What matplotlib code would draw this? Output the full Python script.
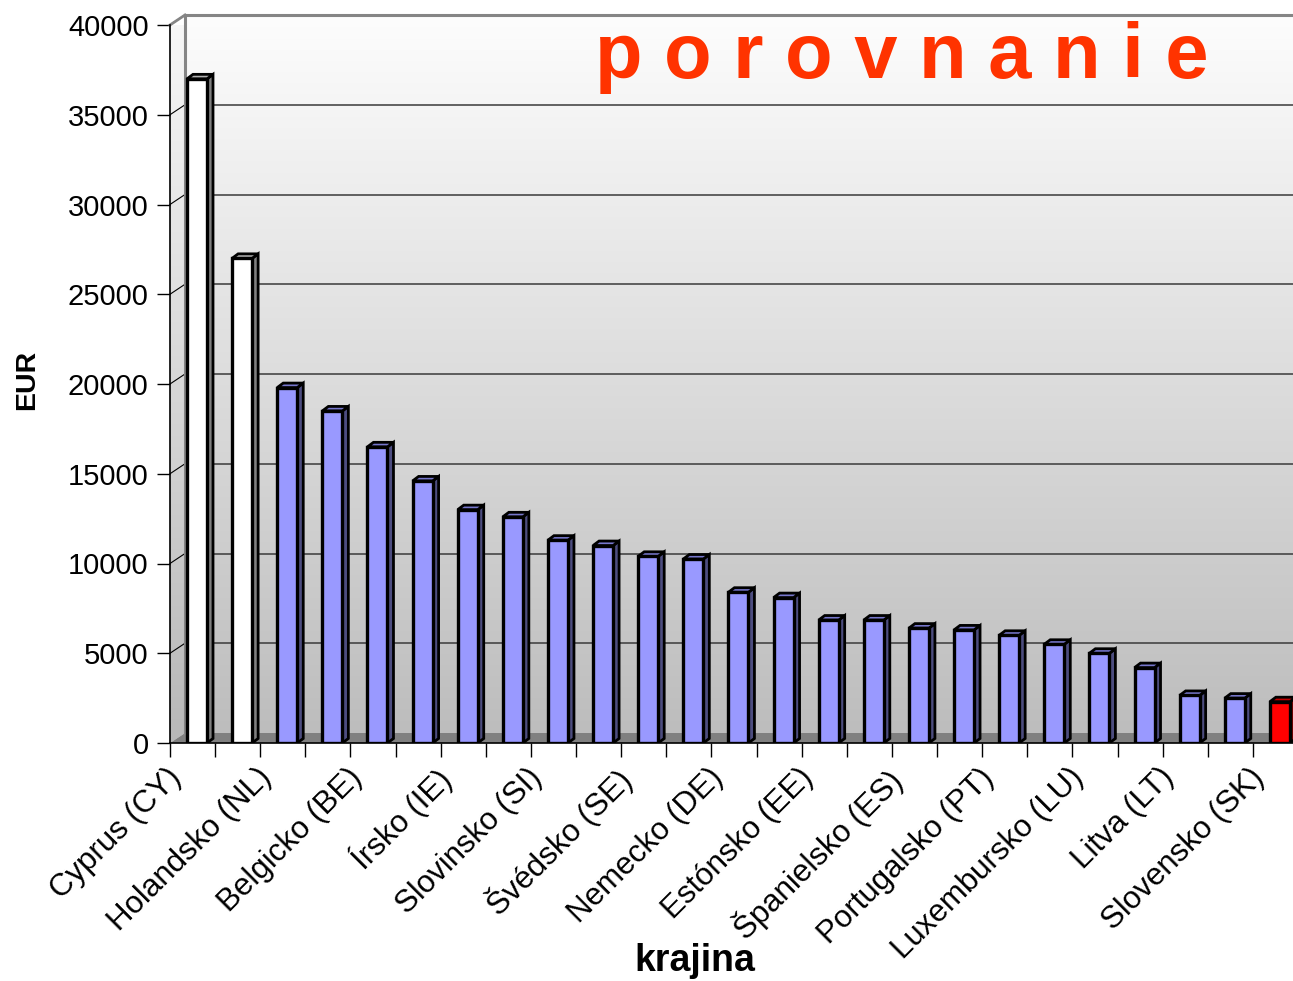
import numpy as np
import matplotlib.pyplot as plt
from matplotlib.patches import Polygon
from matplotlib.colors import LinearSegmentedColormap
from matplotlib.transforms import ScaledTranslation

# hodnoty v EUR, 25 krajin (popis je len pri kazdej druhej)
hodnoty = [37000, 27000, 19800, 18500, 16500, 14600, 13000, 12600, 11300, 11000,
           10400, 10250, 8400, 8100, 6850, 6850, 6400, 6300, 6000, 5500,
           5000, 4200, 2650, 2500, 2300]
popisy = ['Cyprus (CY)', 'Holandsko (NL)', 'Belgicko (BE)', 'Írsko (IE)',
          'Slovinsko (SI)', 'Švédsko (SE)', 'Nemecko (DE)', 'Estónsko (EE)',
          'Španielsko (ES)', 'Portugalsko (PT)', 'Luxembursko (LU)',
          'Litva (LT)', 'Slovensko (SK)']
druh = ['w', 'w'] + ['b'] * 22 + ['r']
y_ticks = list(range(0, 40001, 5000))

FARBY = {'w': ('#FFFFFF', '#808080', '#B0B0B0'),
         'b': ('#9999FF', '#4D4D80', '#7777CC'),
         'r': ('#FF0000', '#800000', '#C00000')}

plt.rcParams['font.family'] = ['Liberation Sans', 'DejaVu Sans']

W, H = 1293, 981
fig = plt.figure(figsize=(W / 100, H / 100), dpi=100)
ax = fig.add_axes([170 / W, (H - 743) / H, 1128 / W, 718 / H])
n = len(hodnoty)
YMAX = 40000

# velkost jedneho pixelu v datovych suradniciach
px = n / 1128
py = YMAX / 718
dxb, dyb = 15 * px, 10 * py      # hlbka zadnej steny
ddx, ddy = 6 * px, 4.5 * py      # hlbka stlpca

# zadna stena s gradientom
grad = np.linspace(0, 1, 256).reshape(-1, 1)
cm_back = LinearSegmentedColormap.from_list('back', ['#BDBDBD', '#FDFDFD'])
ax.imshow(grad, origin='lower', extent=[dxb, n + 1, dyb, YMAX + dyb],
          aspect='auto', cmap=cm_back, zorder=0, clip_on=False)

# lava stena
wall = Polygon([(0, 0), (0, YMAX), (dxb, YMAX + dyb), (dxb, dyb)],
               closed=True, transform=ax.transData)
im = ax.imshow(grad, origin='lower', extent=[0, dxb, 0, YMAX + dyb],
               aspect='auto', cmap=LinearSegmentedColormap.from_list('l', ['#B8B8B8', '#F8F8F8']),
               zorder=0)
im.set_clip_path(wall)

# mriezka
for v in y_ticks[1:-1]:
    ax.plot([dxb, n + 1], [v + dyb, v + dyb], color='#3A3A3A', lw=1.1, zorder=1, clip_on=False)
for v in y_ticks[1:]:
    ax.plot([0, dxb], [v, v + dyb], color='black', lw=0.8, zorder=1, clip_on=False)

# podlaha
ax.add_patch(Polygon([(0, 0), (n + 1, 0), (n + 1, dyb), (dxb, dyb)], closed=True,
                     facecolor='#808080', edgecolor='none', zorder=1.5, clip_on=False))

# okraje steny
ax.plot([dxb, dxb], [dyb, YMAX + dyb], color='#858585', lw=2.2, zorder=2, clip_on=False)
ax.plot([dxb, n + 1], [YMAX + dyb, YMAX + dyb], color='#858585', lw=2.2, zorder=2, clip_on=False)
ax.plot([0, dxb], [YMAX, YMAX + dyb], color='#858585', lw=2.0, zorder=2, clip_on=False)

# stlpce
x0 = np.arange(n) + 17 * px
bw = 20 * px
fronts = [FARBY[d][0] for d in druh]
ax.bar(x0, hodnoty, width=bw, align='edge', color=fronts, edgecolor='black',
       linewidth=2.4, zorder=4)
for xl, v, d in zip(x0, hodnoty, druh):
    xr = xl + bw
    side = Polygon([(xr, 0), (xr + ddx, ddy), (xr + ddx, v + ddy), (xr, v)], closed=True,
                   facecolor=FARBY[d][1], edgecolor='black', lw=2.0, zorder=3)
    top = Polygon([(xl, v), (xl + ddx, v + ddy), (xr + ddx, v + ddy), (xr, v)], closed=True,
                  facecolor=FARBY[d][2], edgecolor='black', lw=2.0, zorder=3)
    ax.add_patch(side)
    ax.add_patch(top)

ax.set_xlim(0, n)
ax.set_ylim(0, YMAX)

for s in ['top', 'right']:
    ax.spines[s].set_visible(False)
for s in ['left', 'bottom']:
    ax.spines[s].set_linewidth(1.2)
    ax.spines[s].set_zorder(5)

ax.set_yticks(y_ticks)
ax.set_yticklabels([str(v) for v in y_ticks])
ax.tick_params(axis='y', length=9.4, width=1, pad=6.0, labelsize=21)

ax.set_xticks(np.arange(0, n + 1), minor=True)
ax.set_xticks(np.arange(0, n, 2) + 0.5)
ax.set_xticklabels(popisy, rotation=45, ha='right', va='top')
ax.tick_params(axis='x', which='major', length=0, pad=14, labelsize=22.5)
ax.tick_params(axis='x', which='minor', length=10, width=1)
shift = ScaledTranslation(-5 / 100, 0, fig.dpi_scale_trans)
for lab in ax.get_xticklabels():
    lab.set_transform(lab.get_transform() + shift)

ax.set_ylabel('EUR', fontsize=20.5, fontweight='bold')
ax.yaxis.set_label_coords((40 - 170) / 1128, (743 - 380) / 718)
ax.set_xlabel('krajina', fontsize=27, fontweight='bold',
              family=['Liberation Sans Narrow', 'Liberation Sans'])
ax.xaxis.set_label_coords((695 - 170) / 1128, (743 - 943) / 718)

fig.text(595 / W, (H - 78) / H, 'p o r o v n a n i e', fontsize=56, fontweight='bold',
         color='#FF3300', va='baseline', ha='left')

fig.savefig('out.png', dpi=100)
